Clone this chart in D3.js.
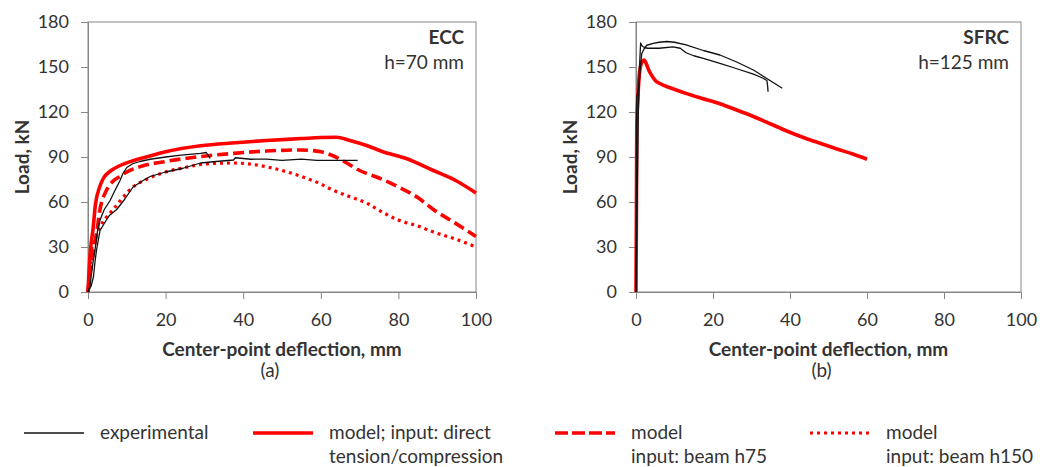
<!DOCTYPE html>
<html>
<head>
<meta charset="utf-8">
<script src="https://cdn.jsdelivr.net/npm/d3@7"></script>
<style>
  html, body { margin: 0; padding: 0; background: #fff; }
  svg { display: block; font-family: Lato, "Open Sans", sans-serif; }
</style>
</head>
<body>
<svg id="chart" width="1040" height="467"></svg>
<script>
// Axis ticks
const xTicks = [0, 20, 40, 60, 80, 100];
const yTicks = [0, 30, 60, 90, 120, 150, 180];

// ECC, h = 70 mm  [deflection mm, load kN]
const eccExp1 = [[0,0],[0.5,4],[0.9,12],[1.3,20],[1.8,28],[2.4,40],[3.1,48],[4.2,55],[5.7,61],[7,68],[8.2,74],[9,79],[10,83],[11.5,85.5],[13.4,87],[16,88.5],[20,90],[24,91.2],[29,92.4],[30.5,93],[31,91],[31.5,89]];
const eccExp2 = [[0,0],[0.8,4],[1.4,10],[1.8,20],[2.2,28],[3.1,41],[4.5,47],[5.5,51],[7.4,55],[9.5,62],[11.6,70],[14,74],[16,77],[20,80],[24.5,82.5],[29,86],[33,87],[37.5,88],[38,89.5],[42,88.5],[46,88.6],[50,87.8],[55,88.6],[59,87.8],[64,87.8],[69.5,87.8]];
const eccModel = [[0,0],[0.4,20],[0.8,32],[1.3,42],[1.9,58],[3,70],[4,76],[5.7,80.5],[8,84],[11.6,87.5],[15,90],[20,93.5],[29,97.5],[38,99.5],[46,101],[55,102.3],[60,103],[64,103.2],[67.5,101],[72,97.5],[76,93.5],[82,89],[89,81],[95,74],[100,66]];
const eccBeam75 = [[0,0],[0.6,14],[1.4,27],[2.2,39],[3.1,55],[4.8,68],[6.5,74],[8.2,77],[10,80],[14,84],[20,87],[28,90],[37.5,92.4],[46,94],[54.6,94.7],[60,93.5],[63,91],[66,87],[70,81],[75,76],[80,70],[85,63],[89,55],[94,47],[100,37]];
const eccBeam150 = [[0,0],[0.5,16],[0.9,28],[2,37],[3.1,43.5],[4.5,49],[6.5,55],[9,63],[11.6,70],[15,75],[20,80],[25,83],[29,85],[33,85.8],[37.5,86],[42,85.2],[46,83.5],[50,81],[55,77],[60,72],[63,68],[67,64],[72,59],[76,53],[80,48],[85,44],[89,40],[95,35],[100,30]];

// SFRC, h = 125 mm
const sfrcExp1 = [[0,0],[0.3,60],[0.6,120],[0.9,150],[1.2,166],[1.6,164],[2.2,163],[3,162.5],[6,162.5],[9.6,163.4],[11.5,162.5],[13,159.5],[15,157.5],[17.5,155.8],[21.8,152.4],[26,149],[30.5,145.3],[33,142.5],[34,141],[34.2,137],[34.3,133.5]];
const sfrcExp2 = [[0,0],[0.1,60],[0.2,130],[0.6,135],[0.9,141],[1.2,152],[1.5,159],[2.1,162],[2.8,164.5],[4.5,165.7],[6,166.5],[8,167],[10,166.5],[13,164.7],[17.5,161],[21.8,158],[26,153.5],[30.5,148],[34.8,141],[38,135.8]];
const sfrcModel = [[0,0],[0.1,50],[0.2,110],[0.5,130],[1,148],[1.5,153],[2.1,154.7],[2.7,152],[3.3,148],[4,144.7],[5,141],[6.2,139],[9,136],[13,132.4],[17,129.2],[21.8,125.5],[26,121.5],[30.5,117],[35,112],[39,107.5],[44,102.5],[48,99],[52,95.5],[56.5,91.8],[60,88.5]];

const svg = d3.select("#chart");
const gridCol = "#868686";
const textCol = "#333";
const red = "#ff0000";
const fontSize = "19px";

const styles = {
  exp:    { stroke: "#111", width: 1.3, dash: null, smooth: false },
  model:  { stroke: red, width: 3.6, dash: null, smooth: true },
  beam75: { stroke: red, width: 3.6, dash: "11,5", smooth: true },
  beam150:{ stroke: red, width: 3.2, dash: "3,4", smooth: true }
};

function panel(x0, x1, series, tagBold, tagText, caption, capShift) {
  const x = d3.scaleLinear().domain([0, 100]).range([x0, x1]);
  const y = d3.scaleLinear().domain([0, 180]).range([292, 22]);
  const g = svg.append("g");

  // plot frame
  g.append("rect")
    .attr("x", x0).attr("y", y(180))
    .attr("width", x1 - x0).attr("height", y(0) - y(180))
    .attr("fill", "none").attr("stroke", gridCol).attr("stroke-width", 1);

  const xa = g.append("g").attr("transform", `translate(0,${y(0)})`)
    .call(d3.axisBottom(x).tickValues(xTicks).tickSize(7).tickPadding(14));
  const ya = g.append("g").attr("transform", `translate(${x0},0)`)
    .call(d3.axisLeft(y).tickValues(yTicks).tickSize(7).tickPadding(12));
  [xa, ya].forEach(a => {
    a.select(".domain").attr("stroke", gridCol);
    a.selectAll(".tick line").attr("stroke", gridCol);
    a.selectAll(".tick text").attr("fill", textCol)
      .style("font-size", "18px").style("font-family", "Lato, sans-serif");
  });

  const lineLin = d3.line().x(d => x(d[0])).y(d => y(d[1]));
  const lineSmooth = d3.line().x(d => x(d[0])).y(d => y(d[1])).curve(d3.curveMonotoneX);
  series.forEach(s => {
    const st = styles[s.style];
    g.append("path").datum(s.data)
      .attr("d", st.smooth ? lineSmooth : lineLin)
      .attr("fill", "none")
      .attr("stroke", st.stroke)
      .attr("stroke-width", st.width)
      .attr("stroke-linejoin", "round")
      .attr("stroke-dasharray", st.dash);
  });

  g.append("text").attr("x", x1 - 12).attr("y", 44)
    .attr("text-anchor", "end").attr("font-weight", "bold")
    .attr("fill", textCol).style("font-size", fontSize).text(tagBold);
  g.append("text").attr("x", x1 - 12).attr("y", 69)
    .attr("text-anchor", "end")
    .attr("fill", textCol).style("font-size", fontSize).text(tagText);

  const cx = (x0 + x1) / 2;
  g.append("text").attr("x", cx).attr("y", 356)
    .attr("text-anchor", "middle").attr("font-weight", "bold")
    .attr("fill", textCol).style("font-size", fontSize).text("Center-point deflection, mm");
  g.append("text").attr("x", cx + capShift).attr("y", 377)
    .attr("text-anchor", "middle")
    .attr("fill", textCol).style("font-size", fontSize).text(caption);
  g.append("text")
    .attr("transform", `translate(${x0 - 59},${y(90)}) rotate(-90)`)
    .attr("text-anchor", "middle").attr("font-weight", "bold")
    .attr("fill", textCol).style("font-size", fontSize).text("Load, kN");
}

panel(88, 476, [
  { data: eccModel, style: "model" },
  { data: eccBeam75, style: "beam75" },
  { data: eccBeam150, style: "beam150" },
  { data: eccExp1, style: "exp" },
  { data: eccExp2, style: "exp" }
], "ECC", "h=70 mm", "(a)", -12);

panel(636, 1021, [
  { data: sfrcModel, style: "model" },
  { data: sfrcExp1, style: "exp" },
  { data: sfrcExp2, style: "exp" }
], "SFRC", "h=125 mm", "(b)", -7);

// legend
const legendItems = [
  { style: "exp",     x: 24,  lines: ["experimental"] },
  { style: "model",   x: 253, lines: ["model; input: direct", "tension/compression"] },
  { style: "beam75",  x: 555, lines: ["model", "input: beam h75"] },
  { style: "beam150", x: 810, lines: ["model", "input: beam h150"] }
];
const lg = svg.append("g");
legendItems.forEach(it => {
  const st = styles[it.style];
  lg.append("line")
    .attr("x1", it.x).attr("x2", it.x + 60)
    .attr("y1", 433).attr("y2", 433)
    .attr("stroke", st.stroke)
    .attr("stroke-width", it.style === "exp" ? 1.6 : st.width)
    .attr("stroke-dasharray", it.style === "beam75" ? "13,4" : st.dash);
  it.lines.forEach((t, i) => {
    lg.append("text")
      .attr("x", it.x + 76).attr("y", 439 + i * 24)
      .attr("fill", textCol).style("font-size", fontSize).text(t);
  });
});
</script>
</body>
</html>
